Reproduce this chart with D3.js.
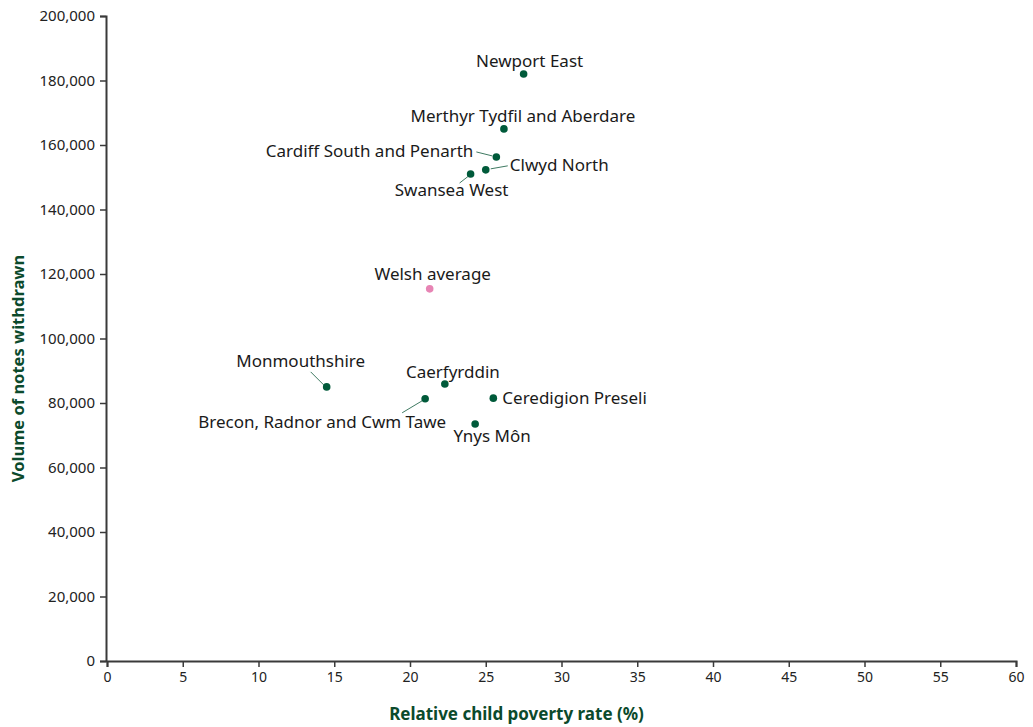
<!DOCTYPE html>
<html>
<head>
<meta charset="utf-8">
<script src="https://cdn.jsdelivr.net/npm/d3@7"></script>
<style>
  body { margin: 0; background: #fff; }
  svg text { font-family: "Noto Sans", "Open Sans", sans-serif; }
</style>
</head>
<body>
<svg width="1033" height="727"></svg>
<script>
// constituencies: name, relative child poverty rate (%), volume of notes withdrawn
var names = ["Newport East", "Merthyr Tydfil and Aberdare", "Cardiff South and Penarth",
  "Clwyd North", "Swansea West", "Welsh average", "Monmouthshire", "Caerfyrddin",
  "Brecon, Radnor and Cwm Tawe", "Ceredigion Preseli", "Ynys Môn"];
var povertyRate = [27.5, 26.2, 25.7, 25.0, 24.0, 21.3, 14.5, 22.3, 21.0, 25.5, 24.3];
var notesWithdrawn = [182000, 165000, 156300, 152300, 151000, 115400, 85000, 85900, 81300, 81500, 73500];

var xTicks = [0, 5, 10, 15, 20, 25, 30, 35, 40, 45, 50, 55, 60];
var yTicks = [0, 20000, 40000, 60000, 80000, 100000, 120000, 140000, 160000, 180000, 200000];

// where each label sits relative to its dot (dx, dy, anchor, optional leader line)
var labelPlace = {
  "Newport East": { dx: 6, dy: -7, anchor: "middle" },
  "Merthyr Tydfil and Aberdare": { dx: 19, dy: -7, anchor: "middle" },
  "Cardiff South and Penarth": { dx: -23, dy: 0, anchor: "end", leader: [-20, -5, -4, -1] },
  "Clwyd North": { dx: 24, dy: 1, anchor: "start", leader: [5, -1, 22, -4] },
  "Swansea West": { dx: -19, dy: 22, anchor: "middle", leader: [-11, 9, -2, 2] },
  "Welsh average": { dx: 3, dy: -9, anchor: "middle" },
  "Monmouthshire": { dx: -26, dy: -20, anchor: "middle", leader: [-16, -15, -3, -2] },
  "Caerfyrddin": { dx: 8, dy: -6, anchor: "middle" },
  "Brecon, Radnor and Cwm Tawe": { dx: 21, dy: 29, anchor: "end", leader: [-23, 14, -3, 2] },
  "Ceredigion Preseli": { dx: 9, dy: 6, anchor: "start" },
  "Ynys Môn": { dx: 17, dy: 18, anchor: "middle" }
};

var svg = d3.select("svg"),
    margin = { top: 16, right: 17, bottom: 66, left: 107 },
    width = +svg.attr("width"),
    height = +svg.attr("height");

var x = d3.scaleLinear().domain([0, 60]).range([margin.left, width - margin.right]);
var y = d3.scaleLinear().domain([0, 200000]).range([height - margin.bottom, margin.top]);

var axisColor = "#3a3a3a",
    green = "#005a3a",
    pink = "#e784b4",
    titleColor = "#0b4a2c";

// y axis
var yAxis = svg.append("g")
    .attr("transform", "translate(" + (margin.left - 1) + ",0)")
    .call(d3.axisLeft(y).tickValues(yTicks).tickSize(6).tickPadding(5)
      .tickFormat(d3.format(",")));

// x axis
var xAxis = svg.append("g")
    .attr("transform", "translate(0," + (height - margin.bottom) + ")")
    .call(d3.axisBottom(x).tickValues(xTicks).tickSize(6).tickPadding(5));

[xAxis, yAxis].forEach(function(g) {
  g.select(".domain").attr("stroke", axisColor).attr("stroke-width", 2);
  g.selectAll(".tick line").attr("stroke", axisColor).attr("stroke-width", 1.5);
  g.selectAll(".tick text").attr("fill", "#222").style("font-size", "15px")
    .style("font-family", "'Noto Sans', sans-serif");
});
xAxis.selectAll(".tick text").style("font-size", "14px");

// axis titles
svg.append("text")
    .attr("x", width / 2)
    .attr("y", height - 7)
    .attr("text-anchor", "middle")
    .attr("fill", titleColor)
    .style("font-size", "17px")
    .style("font-weight", "bold")
    .text("Relative child poverty rate (%)");

svg.append("text")
    .attr("transform", "translate(24," + ((margin.top + height - margin.bottom) / 2 + 30) + ") rotate(-90)")
    .attr("text-anchor", "middle")
    .attr("fill", titleColor)
    .style("font-size", "16.5px")
    .style("font-weight", "bold")
    .text("Volume of notes withdrawn");

var points = names.map(function(n, i) {
  return { name: n, rate: povertyRate[i], notes: notesWithdrawn[i] };
});

// leader lines
svg.append("g")
    .selectAll("line")
    .data(points.filter(function(d) { return labelPlace[d.name].leader; }))
    .enter().append("line")
    .attr("x1", function(d) { return x(d.rate) + labelPlace[d.name].leader[0]; })
    .attr("y1", function(d) { return y(d.notes) + labelPlace[d.name].leader[1]; })
    .attr("x2", function(d) { return x(d.rate) + labelPlace[d.name].leader[2]; })
    .attr("y2", function(d) { return y(d.notes) + labelPlace[d.name].leader[3]; })
    .attr("stroke", "#3f7a62")
    .attr("stroke-width", 1);

// dots
svg.append("g")
    .selectAll("circle")
    .data(points)
    .enter().append("circle")
    .attr("cx", function(d) { return x(d.rate); })
    .attr("cy", function(d) { return y(d.notes); })
    .attr("r", 3.8)
    .attr("fill", function(d) { return d.name === "Welsh average" ? pink : green; });

// labels
svg.append("g")
    .selectAll("text")
    .data(points)
    .enter().append("text")
    .attr("x", function(d) { return x(d.rate) + labelPlace[d.name].dx; })
    .attr("y", function(d) { return y(d.notes) + labelPlace[d.name].dy; })
    .attr("text-anchor", function(d) { return labelPlace[d.name].anchor; })
    .attr("fill", "#1a1a1a")
    .style("font-size", "17px")
    .text(function(d) { return d.name; });
</script>
</body>
</html>
